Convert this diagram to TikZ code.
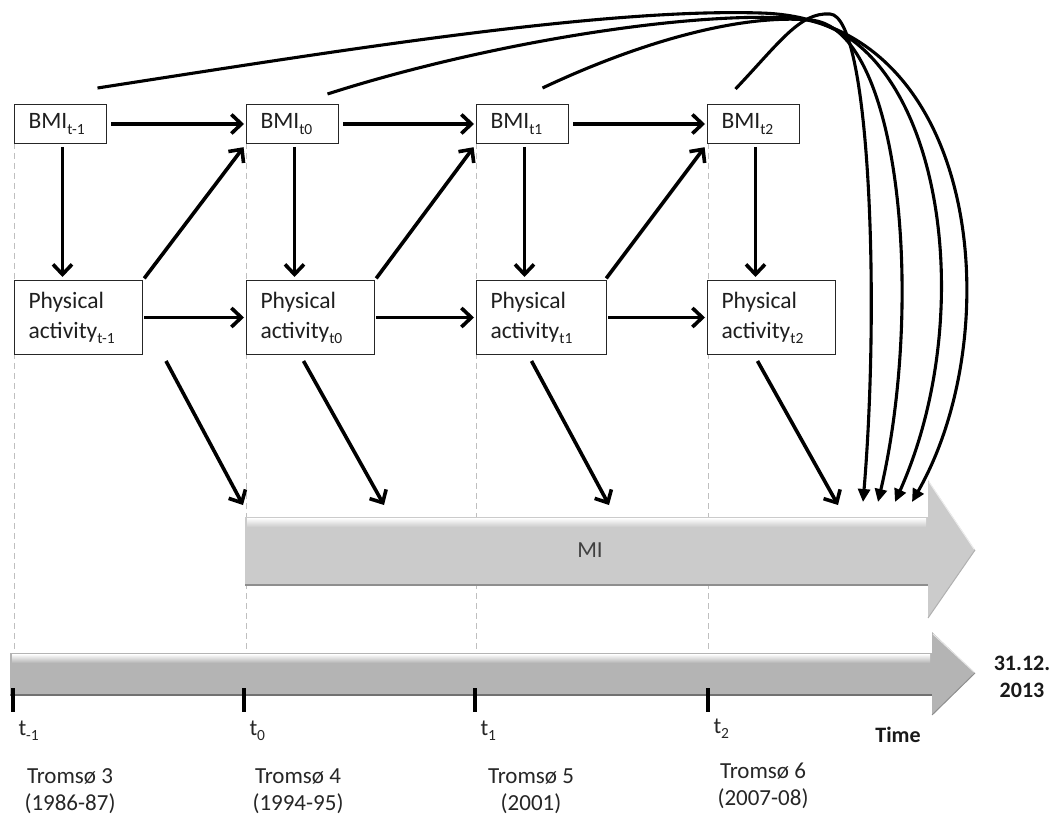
\documentclass[tikz,border=0pt]{standalone}
\usepackage{fontspec}
\setmainfont{Carlito}
\usetikzlibrary{arrows.meta,calc}
\newcommand\sbs[1]{\raisebox{-0.22em}{\fontsize{15.5}{15.5}\selectfont #1}}
\definecolor{migray}{HTML}{CBCBCB}
\definecolor{tlgray}{HTML}{B4B4B4}
\definecolor{edgegray}{HTML}{8E8E8E}
\begin{document}
\begin{tikzpicture}[x=1pt,y=-1pt,
  box/.style={draw=black!85, line width=1pt, fill=white, anchor=north west,
    inner xsep=14pt, inner ysep=0pt, align=left,
    font=\fontsize{23.5}{30}\selectfont, text=black!88},
  bmibox/.style={box, minimum height=39pt, text width=64pt},
  pabox/.style={box, minimum height=74pt, text width=100pt},
  arr/.style={line width=3.6pt, -{Straight Barb[length=10pt,width=19pt]}},
  carr/.style={line width=3.1pt, -{Triangle[length=13pt,width=12pt]}},
  vdash/.style={gray!50, line width=0.7pt, dash pattern=on 6pt off 4pt},
  lbl/.style={font=\fontsize{23}{27}\selectfont, text=black!85},
  tick/.style={line width=3.5pt, black},
  bold/.style={font=\fontsize{22}{27}\selectfont\bfseries, text=black!90}
]
\useasboundingbox (0,0) rectangle (1055,818);

% dashed guides
\foreach \x in {14,246,476,708}
  \draw[vdash] (\x,143) -- (\x,653);

% MI arrow
\fill[migray] (245,517) -- (928,517) -- (928,480) -- (975,550) -- (928,618) -- (928,585) -- (245,585) -- cycle;
\shade[top color=white, bottom color=migray] (247,518) rectangle (926,527);
\draw[edgegray, line width=1.2pt] (245,585) -- (928,585);
\draw[edgegray!70, line width=1pt] (928,618) -- (975,550);
\draw[white!85!gray, line width=1pt] (929,482) -- (974,549);
\node[lbl, text=black!75] (mi) at (590,550) {MI};

% Timeline arrow
\fill[tlgray] (10,653) -- (932,653) -- (932,632) -- (975,673) -- (932,715) -- (932,695) -- (10,695) -- cycle;
\shade[top color=white, bottom color=tlgray] (12,654) rectangle (930,663);
\draw[edgegray!80!black, line width=1.3pt] (10,695) -- (932,695);
\draw[edgegray, line width=1pt] (932,715) -- (975,673);
\draw[white!80!gray, line width=1pt] (933,634) -- (974,672);

% ticks
\foreach \x in {13,244,475,708}
  \draw[tick] (\x,688) -- (\x,712);
\node[lbl, anchor=base west] (tA) at (15,735) {t\sbs{-1}};
\node[lbl, anchor=base west] (tB) at (246,735) {t\sbs{0}};
\node[lbl, anchor=base west] (tC) at (477,735) {t\sbs{1}};
\node[lbl, anchor=base west] (tD) at (710,733) {t\sbs{2}};
\node[bold] (time) at (898,735) {Time};
\node[bold, align=center] (date) at (1022,677) {31.12.\\2013};

\node[lbl, align=center] (tr3) at (70,791) {Troms\o{} 3\\(1986-87)};
\node[lbl, align=center] (tr4) at (298,791) {Troms\o{} 4\\(1994-95)};
\node[lbl, align=center] (tr5) at (531,791) {Troms\o{} 5\\(2001)};
\node[lbl, align=center] (tr6) at (763,786) {Troms\o{} 6\\(2007-08)};

% boxes
\node[bmibox] (bA) at (14,104) {BMI\sbs{t-1}};
\node[bmibox] (bB) at (246,104) {BMI\sbs{t0}};
\node[bmibox] (bC) at (476,104) {BMI\sbs{t1}};
\node[bmibox] (bD) at (707,104) {BMI\sbs{t2}};
\node[pabox] (pA) at (14,280) {Physical\\activity\sbs{t-1}};
\node[pabox] (pB) at (246,280) {Physical\\activity\sbs{t0}};
\node[pabox, text width=102pt] (pC) at (476,280) {Physical\\activity\sbs{t1}};
\node[pabox] (pD) at (707,280) {Physical\\activity\sbs{t2}};

% BMI horizontal
\draw[arr, shorten <=4pt, shorten >=2pt] (bA.east) -- (bB.west);
\draw[arr, shorten <=4pt, shorten >=2pt] (bB.east) -- (bC.west);
\draw[arr, shorten <=4pt, shorten >=2pt] (bC.east) -- (bD.west);
% PA horizontal
\draw[arr, shorten <=1pt, shorten >=2pt] (pA.east) -- (pB.west);
\draw[arr, shorten <=1pt, shorten >=2pt] (pB.east) -- (pC.west);
\draw[arr, shorten <=1pt, shorten >=2pt] (pC.east) -- (pD.west);
% vertical
\foreach \b/\p in {bA/pA,bB/pB,bC/pC,bD/pD}
  \draw[arr, shorten <=3pt, shorten >=3pt] ([xshift=2pt]\b.south) -- ([xshift=2pt]\b.south |- \p.north);
% diagonals
\draw[arr, shorten <=2pt, shorten >=4pt] (pA.north east) -- (bB.south west);
\draw[arr, shorten <=2pt, shorten >=4pt] (pB.north east) -- (bC.south west);
\draw[arr, shorten <=2pt, shorten >=4pt] ([xshift=-2pt]pC.north east) -- (bD.south west);

% PA -> MI
\coordinate (mA) at (243,505);
\coordinate (mB) at (384,505);
\coordinate (mC) at (609,505);
\coordinate (mD) at (838,505);
\draw[arr] ($(pA.south east)+(23,6)$) -- (mA);
\draw[arr] ($(pB.south)+(-7,6)$) -- (mB);
\draw[arr] ($(pC.south)+(-10,6)$) -- (mC);
\draw[arr] ($(pD.south)+(-14,6)$) -- (mD);

% long curves BMI -> MI
\coordinate (eA) at (912,502);
\coordinate (eB) at (895,502);
\coordinate (eC) at (878,502);
\coordinate (eD) at (863,502);
\draw[carr] ($(bA.north)+(37,-16)$) .. controls (330,52) and (600,8) .. (760,13)
   .. controls (980,18) and (1010,330) .. (eA);
\draw[carr] ($(bB.north)+(35,-10)$) .. controls (480,45) and (680,12) .. (790,18)
   .. controls (935,24) and (985,300) .. (eB);
\draw[carr] ($(bC.north)+(20,-16)$) .. controls (640,42) and (740,14) .. (810,20)
   .. controls (900,26) and (925,300) .. (eC);
\draw[carr] ($(bD.north)+(-18,-15)$) .. controls (780,42) and (800,12) .. (830,14)
   .. controls (870,16) and (880,300) .. (eD);
\end{tikzpicture}
\end{document}
